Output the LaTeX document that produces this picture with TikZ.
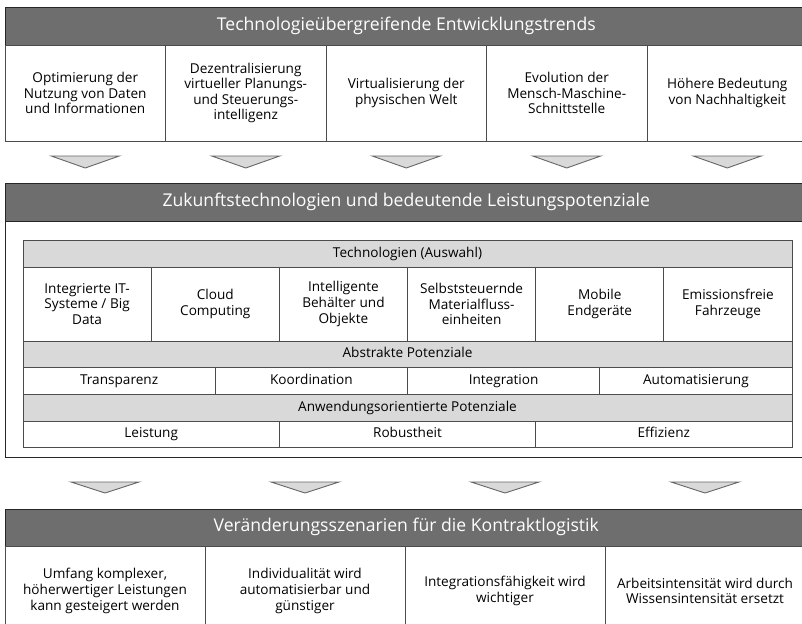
\documentclass[tikz,border=0pt]{standalone}
\usepackage{fontspec}
\setmainfont{Open Sans}
\usetikzlibrary{positioning,calc}

\newcommand{\hdfont}{\fontsize{17.6}{20}\selectfont}
\newcommand{\txtfont}{\fontsize{13.6}{15.6}\selectfont}

\begin{document}
\begin{tikzpicture}[x=1pt,y=-1pt]
    \clip (0,0) rectangle (802,623);
    \begin{scope}[node distance=0pt, text centered, line width=0.9pt,
    		head/.style={rectangle,draw=black!85,fill=black!57,text=white,inner sep=0pt,outer sep=0pt,minimum width=802.5pt,minimum height=38pt,font=\hdfont,text height=2.0ex,text depth=.5ex},
    		sub/.style={rectangle,draw=black!70,fill=black!15,inner sep=0pt,outer sep=0pt,minimum width=769pt,minimum height=27pt,font=\txtfont,text height=1.9ex,text depth=.5ex},
    		cell/.style={rectangle,draw=black!70,fill=white,inner sep=0pt,outer sep=0pt,align=center,font=\txtfont},
    		line/.style={text height=1.9ex,text depth=.5ex},
    		frame/.style={rectangle,draw=black!85,fill=white,inner sep=0pt,outer sep=0pt},
    		chev/.style={draw=black!60,fill=black!15,line join=miter}]

    % Entwicklungstrends
    \node[head, anchor=north west] (trendHead) at (5,7) {Technologieübergreifende Entwicklungstrends};
    \node[cell, minimum width=160.5pt, minimum height=96pt] (trend1) [below right=of trendHead.south west] {Optimierung der\\Nutzung von Daten\\und Informationen};
    \node[cell, minimum width=160.5pt, minimum height=96pt] (trend2) [right=of trend1] {Dezentralisierung\\virtueller Planungs-\\und Steuerungs-\\intelligenz};
    \node[cell, minimum width=160.5pt, minimum height=96pt] (trend3) [right=of trend2] {Virtualisierung der\\physischen Welt};
    \node[cell, minimum width=160.5pt, minimum height=96pt] (trend4) [right=of trend3] {Evolution der\\Mensch-Maschine-\\Schnittstelle};
    \node[cell, minimum width=160.5pt, minimum height=96pt] (trend5) [right=of trend4] {Höhere Bedeutung\\von Nachhaltigkeit};

    \draw[chev] ($(trend1.south)+(-34,15)$) -- ($(trend1.south)+(34,15)$) -- ($(trend1.south)+(0,27)$) -- cycle;
    \draw[chev] ($(trend2.south)+(-34,15)$) -- ($(trend2.south)+(34,15)$) -- ($(trend2.south)+(0,27)$) -- cycle;
    \draw[chev] ($(trend3.south)+(-34,15)$) -- ($(trend3.south)+(34,15)$) -- ($(trend3.south)+(0,27)$) -- cycle;
    \draw[chev] ($(trend4.south)+(-34,15)$) -- ($(trend4.south)+(34,15)$) -- ($(trend4.south)+(0,27)$) -- cycle;
    \draw[chev] ($(trend5.south)+(-34,15)$) -- ($(trend5.south)+(34,15)$) -- ($(trend5.south)+(0,27)$) -- cycle;

    % Zukunftstechnologien
    \node[frame, anchor=north west, minimum width=802.5pt, minimum height=274pt] (potFrame) at (5,183) {};
    \node[head, anchor=north west] (potHead) at (potFrame.north west) {Zukunftstechnologien und bedeutende Leistungspotenziale};

    \node[sub, anchor=north west] (techHead) at (23,240) {Technologien (Auswahl)};
    \node[cell, minimum width=128.17pt, minimum height=74pt] (tech1) [below right=of techHead.south west] {Integrierte IT-\\Systeme / Big\\Data};
    \node[cell, minimum width=128.17pt, minimum height=74pt] (tech2) [right=of tech1] {Cloud\\Computing};
    \node[cell, minimum width=128.17pt, minimum height=74pt] (tech3) [right=of tech2] {Intelligente\\Behälter und\\Objekte};
    \node[cell, minimum width=128.17pt, minimum height=74pt] (tech4) [right=of tech3] {Selbststeuernde\\Materialfluss-\\einheiten};
    \node[cell, minimum width=128.17pt, minimum height=74pt] (tech5) [right=of tech4] {Mobile\\Endgeräte};
    \node[cell, minimum width=128.17pt, minimum height=74pt] (tech6) [right=of tech5] {Emissionsfreie\\Fahrzeuge};

    \node[sub, minimum height=26pt] (abstrHead) [below right=of tech1.south west] {Abstrakte Potenziale};
    \node[cell, line, minimum width=192.25pt, minimum height=27pt] (abstr1) [below right=of abstrHead.south west] {Transparenz};
    \node[cell, line, minimum width=192.25pt, minimum height=27pt] (abstr2) [right=of abstr1] {Koordination};
    \node[cell, line, minimum width=192.25pt, minimum height=27pt] (abstr3) [right=of abstr2] {Integration};
    \node[cell, line, minimum width=192.25pt, minimum height=27pt] (abstr4) [right=of abstr3] {Automatisierung};

    \node[sub] (applHead) [below right=of abstr1.south west] {Anwendungsorientierte Potenziale};
    \node[cell, line, minimum width=256.33pt, minimum height=26pt] (appl1) [below right=of applHead.south west] {Leistung};
    \node[cell, line, minimum width=256.33pt, minimum height=26pt] (appl2) [right=of appl1] {Robustheit};
    \node[cell, line, minimum width=256.33pt, minimum height=26pt] (appl3) [right=of appl2] {Effizienz};

    % Veraenderungsszenarien
    \node[head, anchor=north west, minimum height=37pt] (scenHead) at (5,509) {Veränderungsszenarien für die Kontraktlogistik};
    \node[cell, minimum width=200pt, minimum height=90pt] (scen1) [below right=of scenHead.south west] {Umfang komplexer,\\höherwertiger Leistungen\\kann gesteigert werden};
    \node[cell, minimum width=200pt, minimum height=90pt] (scen2) [right=of scen1] {Individualität wird\\automatisierbar und\\günstiger};
    \node[cell, minimum width=200pt, minimum height=90pt] (scen3) [right=of scen2] {Integrationsfähigkeit wird\\wichtiger};
    \node[cell, minimum width=200pt, minimum height=90pt] (scen4) [right=of scen3] {Arbeitsintensität wird durch\\Wissensintensität ersetzt};

    \draw[chev] ($(scen1.north)+(-34,-64)$) -- ($(scen1.north)+(34,-64)$) -- ($(scen1.north)+(0,-53)$) -- cycle;
    \draw[chev] ($(scen2.north)+(-34,-64)$) -- ($(scen2.north)+(34,-64)$) -- ($(scen2.north)+(0,-53)$) -- cycle;
    \draw[chev] ($(scen3.north)+(-34,-64)$) -- ($(scen3.north)+(34,-64)$) -- ($(scen3.north)+(0,-53)$) -- cycle;
    \draw[chev] ($(scen4.north)+(-34,-64)$) -- ($(scen4.north)+(34,-64)$) -- ($(scen4.north)+(0,-53)$) -- cycle;

    \end{scope}
\end{tikzpicture}
\end{document}
